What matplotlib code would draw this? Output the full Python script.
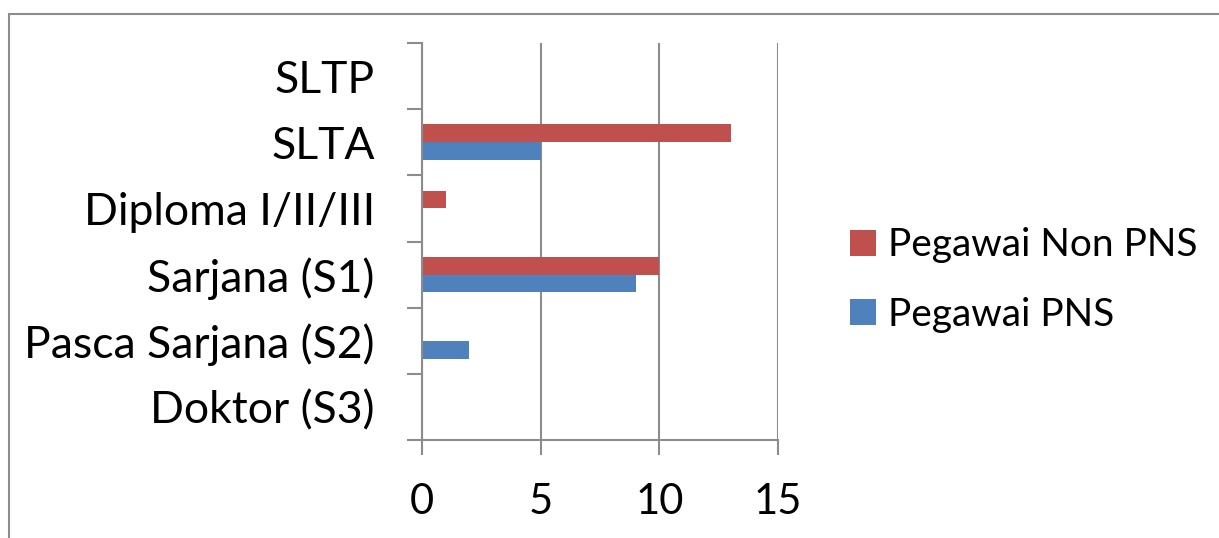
import matplotlib.pyplot as plt
import matplotlib.patches as patches
from matplotlib.ticker import FixedLocator

plt.rcParams['font.family'] = ['Lato', 'DejaVu Sans']

# Data (bottom to top)
kategori = ['Doktor (S3)', 'Pasca Sarjana (S2)', 'Sarjana (S1)',
            'Diploma I/II/III', 'SLTA', 'SLTP']
pns = [0, 2, 9, 0, 5, 0]
non_pns = [0, 0, 10, 1, 13, 0]

warna_pns = '#4F81BD'
warna_non = '#C0504D'
abu = '#8C8C8C'

W, H = 1219, 538
fig = plt.figure(figsize=(W / 100, H / 100), dpi=100)

# border around the chart area
fig.patches.append(patches.Rectangle((9 / W, -0.1), 1.2, (H - 14) / H + 0.1,
                                     transform=fig.transFigure, fill=False,
                                     edgecolor=abu, linewidth=1.5))

ax = fig.add_axes([422 / W, 98 / H, (778 - 422) / W, (440 - 43) / H])

y = list(range(len(kategori)))
h = 0.27
b_non = ax.barh([v + h / 2 for v in y], non_pns, height=h, color=warna_non,
                label='Pegawai Non PNS')
b_pns = ax.barh([v - h / 2 for v in y], pns, height=h, color=warna_pns,
                label='Pegawai PNS')

ax.set_xlim(0, 15)
ax.set_ylim(-0.5, len(kategori) - 0.5)
ax.set_xticks([0, 5, 10, 15])
ax.set_yticks(y)
ax.set_yticklabels(kategori)
ax.yaxis.set_minor_locator(FixedLocator([v - 0.5 for v in range(len(kategori) + 1)]))

ax.grid(axis='x', color=abu, linewidth=1.5)
ax.set_axisbelow(True)
for s in ['top', 'right']:
    ax.spines[s].set_visible(False)
for s in ['left', 'bottom']:
    ax.spines[s].set_color(abu)
    ax.spines[s].set_linewidth(1.5)

ax.tick_params(axis='y', which='major', length=0, pad=34, labelsize=32)
ax.tick_params(axis='y', which='minor', length=11, width=1.5, color=abu)
ax.tick_params(axis='x', which='major', length=11, width=1.5, color=abu,
               pad=20, labelsize=30)

fig.legend(handles=[b_non, b_pns], loc='center left',
           bbox_to_anchor=(815 / W, 1 - 280 / H), frameon=False,
           fontsize=28, handlelength=0.66, handleheight=0.66,
           handletextpad=0.33, labelspacing=0.86)

fig.savefig('out.png', dpi=100)
